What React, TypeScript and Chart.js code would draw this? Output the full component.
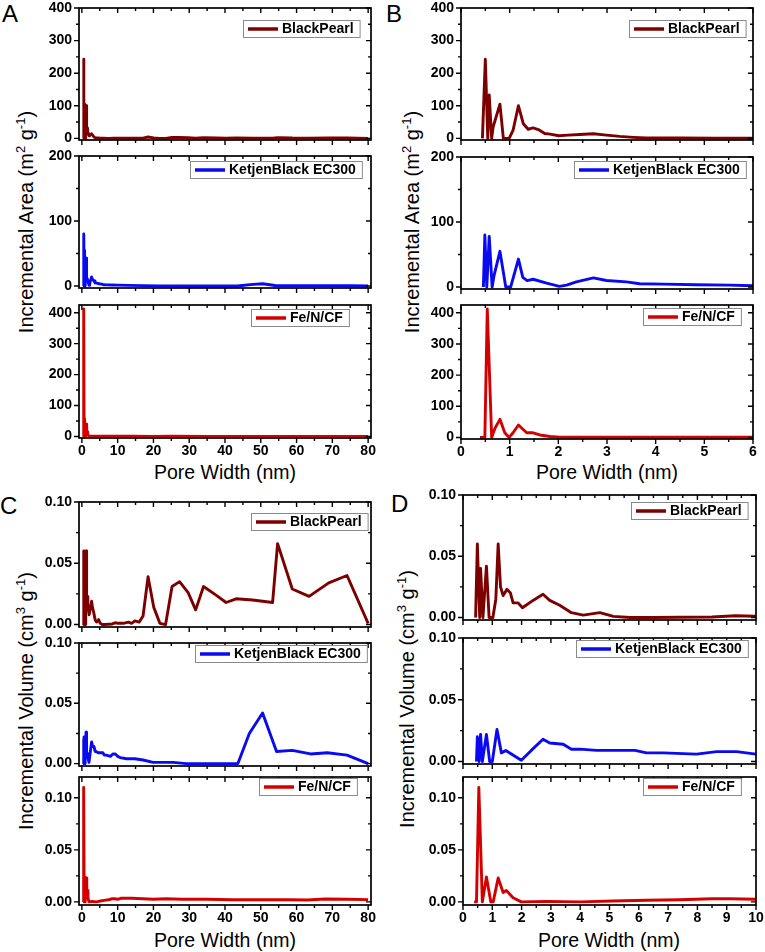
import React, { useEffect, useRef } from "react";
import { Chart, registerables } from "chart.js";
Chart.register(...registerables);

const FONT = "'Liberation Sans', Arial, sans-serif";

// ---------- Data (pore width in nm) ----------
// BlackPearl
const bpAreaWidths = [0.44, 0.50, 0.55, 0.58, 0.63, 0.66, 0.80, 0.87, 0.99, 1.07, 1.18, 1.28, 1.38, 1.48, 1.59, 1.72, 1.83, 2.01, 2.20, 2.44, 2.72, 2.99, 3.26, 3.54, 3.80, 4.50, 5.20, 6.00, 7.40, 8.80, 10.2, 13.0, 14.8, 17.1, 18.5, 20.1, 21.8, 23.4, 25.2, 27.3, 29.7, 31.8, 34.0, 37.5, 40.3, 43.1, 47.7, 53.3, 54.7, 58.8, 63.5, 69.0, 74.1, 80.0];
const bpArea = [0, 243, 0, 133, 0, 35, 105, 0, 0, 25, 100, 45, 28, 32, 27, 15, 13, 8, 10, 12, 14, 10, 6, 3, 1, 1, 0.5, 0.5, 0.1, 0.4, 0.2, 0.3, 0.4, 0.8, 4.2, 1.4, 0.1, 0, 2.5, 2.6, 1.8, 0.8, 1.8, 1.3, 0.9, 1.0, 0.8, 0.7, 2.4, 1.0, 0.7, 1.0, 1.1, 0];
const bpVolWidths = [0.43, 0.49, 0.57, 0.60, 0.68, 0.80, 0.89, 1.02, 1.12, 1.20, 1.28, 1.37, 1.50, 1.62, 1.71, 1.88, 2.03, 2.39, 2.73, 2.96, 3.30, 3.70, 4.10, 4.67, 5.13, 5.70, 6.50, 7.40, 8.50, 9.30, 10.2, 11.6, 13.0, 13.9, 14.8, 16.0, 17.1, 18.5, 20.1, 21.8, 23.4, 25.2, 27.3, 29.7, 31.8, 34.0, 37.5, 40.3, 43.1, 47.7, 53.3, 54.7, 58.8, 63.5, 69.0, 74.1, 80.0];
const bpVol = [0, 0.060, 0, 0.040, 0, 0.042, 0, 0, 0.015, 0.060, 0.025, 0.018, 0.023, 0.020, 0.012, 0.012, 0.008, 0.014, 0.019, 0.014, 0.010, 0.004, 0.002, 0.004, 0.001, 0, 0, 0.0003, 0.0005, 0.0015, 0.001, 0.001, 0.002, 0.001, 0.003, 0.002, 0.007, 0.039, 0.014, 0.001, 0, 0.031, 0.035, 0.026, 0.012, 0.031, 0.024, 0.018, 0.021, 0.020, 0.018, 0.066, 0.029, 0.023, 0.034, 0.040, 0.001];

// KetjenBlack EC300
const kbAreaWidths = [0.46, 0.49, 0.53, 0.58, 0.64, 0.68, 0.80, 0.92, 1.02, 1.18, 1.27, 1.36, 1.48, 1.76, 2.02, 2.17, 2.37, 2.72, 2.99, 3.40, 3.67, 4.15, 4.84, 5.52, 6.00, 7.0, 8.5, 10.0, 13.0, 17.0, 22.0, 30.0, 40.0, 43.5, 47.0, 50.5, 54.0, 60.0, 68.0, 75.0, 80.0];
const kbArea = [0, 80, 0, 78, 0, 18, 55, 0, 0, 43, 15, 10, 12, 6, 1, 3, 8, 14, 10, 8, 5, 4.5, 3.5, 3, 2, 1.8, 1.6, 1.4, 1.0, 0.6, 0.3, 0.1, 0, 0, 2.2, 3.5, 0.8, 0.7, 0.6, 0.5, 0];
const kbVolWidths = [0.46, 0.49, 0.55, 0.60, 0.66, 0.80, 0.91, 1.00, 1.16, 1.31, 1.46, 1.99, 2.33, 2.73, 2.96, 3.42, 3.70, 3.99, 4.56, 5.13, 5.87, 6.26, 6.83, 7.97, 8.66, 9.34, 10.0, 10.7, 12.5, 14.8, 17.1, 19.9, 25.5, 29.2, 34.8, 43.6, 46.8, 50.5, 54.4, 58.8, 63.9, 68.6, 74.1, 80.0];
const kbVol = [0, 0.020, 0, 0.022, 0, 0.022, 0, 0, 0.026, 0.007, 0.009, 0.001, 0.009, 0.018, 0.015, 0.014, 0.010, 0.010, 0.009, 0.009, 0.009, 0.007, 0.007, 0.006, 0.008, 0.008, 0.006, 0.005, 0.004, 0.004, 0.003, 0.001, 0.001, 0, 0, 0, 0.025, 0.042, 0.010, 0.011, 0.008, 0.009, 0.007, 0];

// Fe/N/CF
const feAreaWidths = [0.39, 0.49, 0.54, 0.63, 0.70, 0.80, 0.90, 0.99, 1.07, 1.18, 1.35, 1.48, 1.62, 1.83, 2.03, 2.44, 3.0, 4.0, 5.0, 6.0, 8.0, 10.0, 14.0, 20.0, 25.0, 35.0, 45.0, 55.0, 65.0, 70.0, 80.0];
const feArea = [0, 0, 412, 0, 30, 58, 15, 0, 15, 40, 15, 15, 8, 3, 1, 0.5, 0.5, 0.5, 0.5, 0.5, 0.8, 0.9, 0.6, 0.4, 0.5, 0.4, 0.3, 0.3, 0.3, 0.4, 0.3];
const feVolWidths = [0.38, 0.46, 0.54, 0.66, 0.80, 0.95, 1.03, 1.20, 1.37, 1.48, 1.71, 1.99, 2.85, 4.0, 5.1, 6.26, 7.4, 8.5, 9.1, 10.0, 11.0, 14.0, 17.0, 20.0, 23.5, 28.0, 35.0, 42.0, 50.0, 58.0, 63.0, 68.0, 74.0, 80.0];
const feVol = [0, 0, 0.110, 0, 0.024, 0, 0, 0.023, 0.009, 0.011, 0.004, 0, 0.0005, 0, 0.0008, 0.0015, 0.002, 0.003, 0.003, 0.0025, 0.0035, 0.0035, 0.003, 0.0025, 0.003, 0.0025, 0.0025, 0.002, 0.002, 0.002, 0.0018, 0.0028, 0.0025, 0.0022];

// ---------- Tick values ----------
const wideXMajor = [0, 10, 20, 30, 40, 50, 60, 70, 80];
const wideXMinor = [5, 15, 25, 35, 45, 55, 65, 75];
const areaZoomXMajor = [0, 1, 2, 3, 4, 5, 6];
const areaZoomXMinor = [0.5, 1.5, 2.5, 3.5, 4.5, 5.5];
const volZoomXMajor = [0, 1, 2, 3, 4, 5, 6, 7, 8, 9, 10];
const volZoomXMinor = [0.5, 1.5, 2.5, 3.5, 4.5, 5.5, 6.5, 7.5, 8.5, 9.5];
const area400Major = [0, 100, 200, 300, 400];
const area400Minor = [50, 150, 250, 350];
const area200Major = [0, 100, 200];
const area200Minor = [50, 150];
const volMajor = [0, 0.05, 0.1];
const volMinor = [0.025, 0.075];

const labels = ["BlackPearl", "KetjenBlack EC300", "Fe/N/CF"];
const colors = ["#7d0000", "#0a0af0", "#d40000"];

type Cfg = {
  l: number; t: number; r: number; b: number;
  xMin: number; xMax: number; xMajor: number[]; xMinor: number[]; showX: boolean;
  yMin: number; yMax: number; yMajor: number[]; yMinor: number[]; dec: number;
  xs: number[]; ys: number[]; color: string; label: string;
  legR: number; legT: number;
};

const LEFT_PAD = 62;
const TOP_PAD = 10;
const RIGHT_PAD = 14;

function makeDeco(c: Cfg) {
  return {
    id: "deco",
    afterDatasetsDraw(chart: any) {
      const { ctx, chartArea: a, scales } = chart;
      const xs = scales.x, ys = scales.y;
      ctx.save();
      ctx.strokeStyle = "#000";
      ctx.lineWidth = 1.4;
      ctx.beginPath();
      const xt = (vals: number[], len: number) => {
        vals.forEach((v) => {
          if (v < c.xMin || v > c.xMax) return;
          const px = xs.getPixelForValue(v);
          ctx.moveTo(px, a.bottom); ctx.lineTo(px, a.bottom + len);
          ctx.moveTo(px, a.top); ctx.lineTo(px, a.top + len);
        });
      };
      const yt = (vals: number[], len: number) => {
        vals.forEach((v) => {
          if (v < c.yMin || v > c.yMax) return;
          const py = ys.getPixelForValue(v);
          ctx.moveTo(a.left, py); ctx.lineTo(a.left - len, py);
          ctx.moveTo(a.right, py); ctx.lineTo(a.right - len, py);
        });
      };
      xt(c.xMajor, 5); xt(c.xMinor, 3);
      yt(c.yMajor, 5); yt(c.yMinor, 3);
      ctx.stroke();
      ctx.lineWidth = 1.7;
      ctx.strokeRect(a.left, a.top, a.right - a.left, a.bottom - a.top);
      // legend
      ctx.font = `bold 14px ${FONT}`;
      const tw = ctx.measureText(c.label).width;
      const bw = 5 + 30 + 4 + tw + 6;
      const bh = 17;
      const bx = Math.round(a.right - c.legR - bw);
      const by = Math.round(a.top + c.legT);
      ctx.fillStyle = "#fff";
      ctx.fillRect(bx, by, bw, bh);
      ctx.strokeStyle = "#8a8a8a";
      ctx.lineWidth = 1;
      ctx.strokeRect(bx + 0.5, by + 0.5, bw, bh);
      ctx.strokeStyle = c.color;
      ctx.lineWidth = 3.5;
      ctx.beginPath();
      ctx.moveTo(bx + 5, by + bh / 2 + 0.5);
      ctx.lineTo(bx + 35, by + bh / 2 + 0.5);
      ctx.stroke();
      ctx.fillStyle = "#000";
      ctx.textBaseline = "middle";
      ctx.textAlign = "left";
      ctx.fillText(c.label, bx + 39, by + bh / 2 + 1);
      ctx.restore();
    },
  };
}

function Plot({ c }: { c: Cfg }) {
  const ref = useRef<HTMLCanvasElement>(null);
  const bottomPad = c.showX ? 30 : 10;
  const w = c.r - c.l + LEFT_PAD + RIGHT_PAD;
  const h = c.b - c.t + TOP_PAD + bottomPad;
  useEffect(() => {
    const tickFont = { family: FONT, size: 14, weight: "bold" as const };
    const chart = new Chart(ref.current!, {
      type: "line",
      data: {
        datasets: [
          {
            label: c.label,
            data: c.xs.map((x, i) => ({ x, y: c.ys[i] })),
            borderColor: c.color,
            borderWidth: 2.9,
            pointRadius: 0,
            fill: false,
            tension: 0,
            borderJoinStyle: "round",
          },
        ],
      },
      options: {
        animation: false,
        responsive: false,
        maintainAspectRatio: false,
        events: [],
        layout: { autoPadding: false, padding: { top: TOP_PAD, right: RIGHT_PAD, left: 0, bottom: 0 } },
        plugins: { legend: { display: false }, tooltip: { enabled: false } },
        scales: {
          x: {
            type: "linear",
            position: "bottom",
            min: c.xMin,
            max: c.xMax,
            grid: { display: false, drawTicks: false },
            border: { display: false },
            ticks: {
              display: c.showX,
              padding: 5,
              autoSkip: false,
              maxRotation: 0,
              color: "#000",
              font: tickFont,
              callback: (v: any) => String(v),
            },
            afterBuildTicks: (s: any) => { s.ticks = c.xMajor.map((v) => ({ value: v })); },
            afterFit: (s: any) => { s.height = bottomPad; s.paddingLeft = 0; s.paddingRight = 0; },
          },
          y: {
            type: "linear",
            position: "left",
            min: c.yMin,
            max: c.yMax,
            grid: { display: false, drawTicks: false },
            border: { display: false },
            ticks: {
              padding: 7,
              autoSkip: false,
              color: "#000",
              font: tickFont,
              callback: (v: any) => Number(v).toFixed(c.dec),
            },
            afterBuildTicks: (s: any) => { s.ticks = c.yMajor.map((v) => ({ value: v })); },
            afterFit: (s: any) => { s.width = LEFT_PAD; s.paddingTop = 0; s.paddingBottom = 0; },
          },
        },
      },
      plugins: [makeDeco(c)],
    } as any);
    return () => chart.destroy();
  }, []);
  return (
    <canvas
      ref={ref}
      width={w}
      height={h}
      style={{ position: "absolute", left: c.l - LEFT_PAD, top: c.t - TOP_PAD, width: w, height: h }}
    />
  );
}

type Frame = [number, number, number, number];

function buildPanel(
  frames: Frame[],
  x: { min: number; max: number; major: number[]; minor: number[] },
  ys: { min: number; max: number; major: number[]; minor: number[] }[],
  dec: number,
  series: [number[], number[]][],
  legs: [number, number][]
): Cfg[] {
  return frames.map((f, i) => ({
    l: f[0], t: f[1], r: f[2], b: f[3],
    xMin: x.min, xMax: x.max, xMajor: x.major, xMinor: x.minor, showX: i === 2,
    yMin: ys[i].min, yMax: ys[i].max, yMajor: ys[i].major, yMinor: ys[i].minor, dec,
    xs: series[i][0], ys: series[i][1], color: colors[i], label: labels[i],
    legR: legs[i][0], legT: legs[i][1],
  }));
}

const areaY = [
  { min: -5, max: 400, major: area400Major, minor: area400Minor },
  { min: -3, max: 200, major: area200Major, minor: area200Minor },
  { min: -5, max: 425, major: area400Major, minor: area400Minor },
];
const volY = [
  { min: -0.002, max: 0.1, major: volMajor, minor: volMinor },
  { min: -0.002, max: 0.1, major: volMajor, minor: volMinor },
  { min: -0.003, max: 0.12, major: volMajor, minor: volMinor },
];
const areaSeries: [number[], number[]][] = [[bpAreaWidths, bpArea], [kbAreaWidths, kbArea], [feAreaWidths, feArea]];
const volSeries: [number[], number[]][] = [[bpVolWidths, bpVol], [kbVolWidths, kbVol], [feVolWidths, feVol]];

const panelA = buildPanel(
  [[79, 8, 371, 140], [79, 156, 371, 288], [79, 305, 371, 438]],
  { min: -0.8, max: 80.8, major: wideXMajor, minor: wideXMinor }, areaY, 0, areaSeries,
  [[11, 12], [9, 5], [22, 4]]
);
const panelB = buildPanel(
  [[461, 8, 753, 140], [461, 157, 753, 289], [461, 305, 753, 439]],
  { min: 0, max: 6, major: areaZoomXMajor, minor: areaZoomXMinor }, areaY, 0, areaSeries,
  [[7, 12], [7, 4], [12, 3]]
);
const panelC = buildPanel(
  [[79, 502, 371, 627], [79, 643, 371, 766], [79, 777, 371, 905]],
  { min: -0.8, max: 80.8, major: wideXMajor, minor: wideXMinor }, volY, 2, volSeries,
  [[3, 11], [4, 2], [14, 1]]
);
const panelD = buildPanel(
  [[463, 495, 756, 620], [463, 638, 756, 764], [463, 777, 756, 905]],
  { min: 0, max: 10, major: volZoomXMajor, minor: volZoomXMinor }, volY, 2, volSeries,
  [[8, 7], [8, 2], [15, 1]]
);

const supStyle: React.CSSProperties = { fontSize: 13, verticalAlign: "super", lineHeight: 0 };

function YTitle({ cx, cy, kind }: { cx: number; cy: number; kind: "area" | "vol" }) {
  return (
    <div
      style={{
        position: "absolute", left: cx - 200, top: cy - 11, width: 400, height: 22,
        lineHeight: "22px", fontSize: 20, textAlign: "center", whiteSpace: "nowrap",
        transform: "rotate(-90deg)", transformOrigin: "50% 50%", color: "#000",
      }}
    >
      {kind === "area" ? (
        <>Incremental Area (m<sup style={supStyle}>2</sup> g<sup style={supStyle}>-1</sup>)</>
      ) : (
        <>Incremental Volume (cm<sup style={supStyle}>3</sup> g<sup style={supStyle}>-1</sup>)</>
      )}
    </div>
  );
}

function XTitle({ cx, top }: { cx: number; top: number }) {
  return (
    <div
      style={{
        position: "absolute", left: cx - 150, top, width: 300, height: 20,
        lineHeight: "20px", fontSize: 19.5, textAlign: "center", whiteSpace: "nowrap", color: "#000",
      }}
    >
      Pore Width (nm)
    </div>
  );
}

function Letter({ x, y, t }: { x: number; y: number; t: string }) {
  return (
    <div style={{ position: "absolute", left: x, top: y, fontSize: 24, lineHeight: "24px", color: "#000" }}>{t}</div>
  );
}

export default function App() {
  const all = [...panelA, ...panelB, ...panelC, ...panelD];
  return (
    <div
      style={{
        position: "absolute", left: 0, top: 0, width: 765, height: 952,
        background: "#fff", fontFamily: FONT, overflow: "hidden",
      }}
    >
      <Letter x={2} y={2} t="A" />
      <Letter x={386} y={2} t="B" />
      <Letter x={0} y={494} t="C" />
      <Letter x={391} y={492} t="D" />
      <YTitle cx={26} cy={222} kind="area" />
      <YTitle cx={412} cy={222} kind="area" />
      <YTitle cx={26} cy={701} kind="vol" />
      <YTitle cx={407} cy={699} kind="vol" />
      <XTitle cx={225} top={462} />
      <XTitle cx={607} top={462} />
      <XTitle cx={225} top={930} />
      <XTitle cx={609} top={930} />
      {all.map((c, i) => (
        <Plot key={i} c={c} />
      ))}
    </div>
  );
}
